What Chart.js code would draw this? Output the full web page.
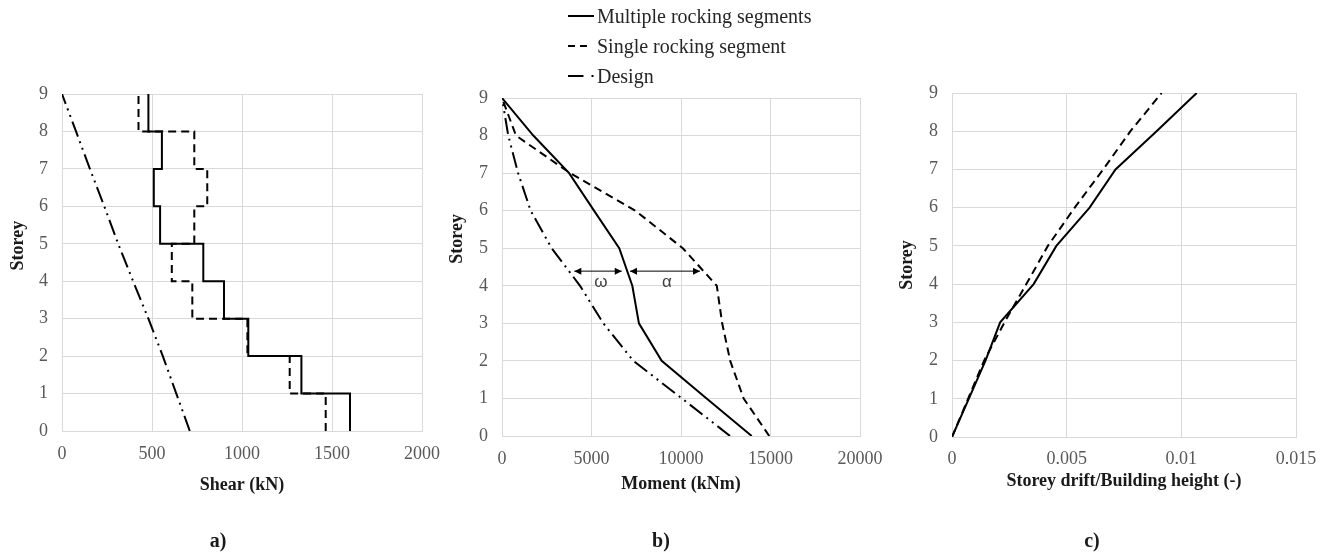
<!DOCTYPE html>
<html>
<head>
<meta charset="utf-8">
<script src="https://cdn.jsdelivr.net/npm/chart.js@4.4.0/dist/chart.umd.min.js"></script>
<style>
  body { margin: 0; width: 1328px; height: 554px; background: #fff; position: relative; overflow: hidden; font-family: "Liberation Serif", serif; }
  canvas { position: absolute; top: 0; }
  .tag { position: absolute; top: 540px; transform: translate(-50%, -50%); font-size: 20px; font-weight: bold; color: #1a1a1a; }
  #legend { position: absolute; left: 568px; top: 1px; font-size: 20px; color: #262626; }
  #legend div { height: 30px; display: flex; align-items: center; }
  #legend svg { margin-right: 3px; }
</style>
</head>
<body>
<canvas id="shearChart" width="450" height="554" style="left:0px"></canvas>
<canvas id="momentChart" width="460" height="554" style="left:440px"></canvas>
<canvas id="driftChart" width="438" height="554" style="left:890px"></canvas>

<div id="legend">
  <div><svg width="26" height="4"><line x1="0" y1="2" x2="26" y2="2" stroke="#000" stroke-width="2"/></svg>Multiple rocking segments</div>
  <div><svg width="26" height="4"><line x1="0" y1="2" x2="19" y2="2" stroke="#000" stroke-width="2" stroke-dasharray="7 5"/></svg>Single rocking segment</div>
  <div><svg width="26" height="4"><line x1="0" y1="2" x2="27" y2="2" stroke="#000" stroke-width="2" stroke-dasharray="15.5 8 2 8"/></svg>Design</div>
</div>

<div class="tag" style="left:218px">a)</div>
<div class="tag" style="left:661px">b)</div>
<div class="tag" style="left:1092px">c)</div>

<script>
// ------------------ Data ------------------
const storeys = [0, 1, 2, 3, 4, 5, 6, 7, 8, 9];

// a) shear (kN), value of the step starting at each storey
const shearMultiple = [1600, 1330, 1035, 900, 785, 545, 510, 555, 480, 480];
const shearSingle   = [1465, 1265, 1030, 724, 610, 735, 807, 735, 425, 425];
const shearDesign   = [710, 635, 560, 480, 395, 312, 235, 155, 78, 0];

// b) moment (kNm)
const momentMultiple = [13950, 11430, 8920, 7650, 7280, 6550, 5140, 3750, 1750, 0];
const momentSingle   = [14930, 13500, 12750, 12300, 12000, 10100, 7450, 3800, 780, 0];
const momentDesign   = [12740, 10050, 7340, 5660, 4360, 2775, 1600, 900, 350, 0];

// c) storey drift / building height
const driftMultiple = [0, 0.00073, 0.00146, 0.0021, 0.00356, 0.00455, 0.006, 0.00713, 0.00892, 0.01067];
const driftSingle   = [0, 0.0007, 0.0014, 0.00229, 0.00324, 0.00418, 0.00535, 0.00659, 0.00778, 0.00914];

// tick values
const storeyTicks = [0, 1, 2, 3, 4, 5, 6, 7, 8, 9];
const shearTicks  = [0, 500, 1000, 1500, 2000];
const momentTicks = [0, 5000, 10000, 15000, 20000];
const driftTicks  = [0, 0.005, 0.01, 0.015];

// omega / alpha arrows in b)
const arrowStorey = 4.39;
const arrowRanges = [[4040, 6690], [7150, 11060]];
const arrowLabels = ["ω", "α"];
const arrowLabelX = [5530, 9220];
const arrowLabelStorey = 4.1;

// ------------------ Helpers ------------------
const pts = vals => vals.map((v, i) => ({ x: v, y: storeys[i] }));

const solid  = { borderColor: "#000", borderWidth: 2, pointRadius: 0, showLine: true };
const dashed = { borderColor: "#000", borderWidth: 2, pointRadius: 0, showLine: true, borderDash: [8, 5] };
const dashDot = { borderColor: "#000", borderWidth: 2, pointRadius: 0, showLine: true, borderDash: [16, 5, 2, 5, 2, 5] };

const tickFont = { family: "Liberation Serif", size: 18 };
const titleFont = { family: "Liberation Serif", size: 18, weight: "bold" };
const gridColor = "#d9d9d9";

function makeOptions(xTicks, xTitle, box, fmt) {
  return {
    responsive: false,
    animation: false,
    layout: { padding: { left: 0, top: box.top, right: box.right, bottom: box.bottom } },
    plugins: {
      legend: { display: false },
      tooltip: { enabled: false },
      yTitle: { text: "Storey", x: box.yTitleX, storey: box.yTitleStorey }
    },
    scales: {
      x: {
        type: "linear",
        min: xTicks[0],
        max: xTicks[xTicks.length - 1],
        ticks: { stepSize: xTicks[1] - xTicks[0], font: tickFont, color: "#595959", padding: box.xTickPad, maxRotation: 0, callback: fmt },
        grid: { color: gridColor, drawTicks: false },
        border: { color: gridColor },
        title: { display: true, text: xTitle, font: titleFont, color: "#1a1a1a", padding: 0 },
        afterFit: s => { s.height = box.xHeight; s.paddingLeft = 0; s.paddingRight = 0; }
      },
      y: {
        type: "linear",
        min: storeyTicks[0],
        max: storeyTicks[storeyTicks.length - 1],
        ticks: { stepSize: 1, font: tickFont, color: "#595959", padding: 14 },
        grid: { color: gridColor, drawTicks: false },
        border: { color: gridColor },
        afterFit: s => { s.width = box.yWidth; s.paddingTop = 0; s.paddingBottom = 0; }
      }
    }
  };
}

// rotated y title, placed at a storey value like the original
const yTitlePlugin = {
  id: "yTitle",
  afterDraw(chart, args, opts) {
    const ctx = chart.ctx;
    ctx.save();
    ctx.translate(opts.x, chart.scales.y.getPixelForValue(opts.storey));
    ctx.rotate(-Math.PI / 2);
    ctx.font = "bold 18px 'Liberation Serif', serif";
    ctx.fillStyle = "#1a1a1a";
    ctx.textAlign = "center";
    ctx.textBaseline = "middle";
    ctx.fillText(opts.text, 0, 0);
    ctx.restore();
  }
};

// ------------------ Arrow plugin for b) ------------------
const arrowPlugin = {
  id: "arrows",
  afterDatasetsDraw(chart) {
    const { ctx, scales: { x, y } } = chart;
    const yy = y.getPixelForValue(arrowStorey);
    ctx.save();
    ctx.strokeStyle = "#000";
    ctx.lineWidth = 1;
    arrowRanges.forEach((r, i) => {
      const x1 = x.getPixelForValue(r[0]);
      const x2 = x.getPixelForValue(r[1]);
      ctx.fillStyle = "#000";
      ctx.beginPath();
      ctx.moveTo(x1, yy);
      ctx.lineTo(x2, yy);
      ctx.stroke();
      [[x1, 1], [x2, -1]].forEach(([px, dir]) => {
        ctx.beginPath();
        ctx.moveTo(px, yy);
        ctx.lineTo(px + dir * 7, yy - 3.5);
        ctx.lineTo(px + dir * 7, yy + 3.5);
        ctx.closePath();
        ctx.fill();
      });
      ctx.fillStyle = "#404040";
      ctx.font = "17px 'Liberation Sans', sans-serif";
      ctx.textAlign = "center";
      ctx.textBaseline = "middle";
      ctx.fillText(arrowLabels[i], x.getPixelForValue(arrowLabelX[i]), y.getPixelForValue(arrowLabelStorey));
    });
    ctx.restore();
  }
};

const plainNum = v => String(v);

// ------------------ a) Shear ------------------
new Chart(document.getElementById("shearChart"), {
  type: "scatter",
  data: {
    datasets: [
      { label: "Multiple rocking segments", data: pts(shearMultiple), stepped: "after", ...solid },
      { label: "Single rocking segment", data: pts(shearSingle), stepped: "after", ...dashed },
      { label: "Design", data: pts(shearDesign), ...dashDot }
    ]
  },
  options: makeOptions(shearTicks, "Shear (kN)",
    { top: 94, right: 28, bottom: 58, yWidth: 62, xHeight: 65, yTitleX: 18, yTitleStorey: 4.95, xTickPad: 12 }, plainNum),
  plugins: [yTitlePlugin]
});

// ------------------ b) Moment ------------------
new Chart(document.getElementById("momentChart"), {
  type: "scatter",
  data: {
    datasets: [
      { label: "Multiple rocking segments", data: pts(momentMultiple), ...solid },
      { label: "Single rocking segment", data: pts(momentSingle), ...dashed },
      { label: "Design", data: pts(momentDesign), ...dashDot }
    ]
  },
  options: makeOptions(momentTicks, "Moment (kNm)",
    { top: 98, right: 40, bottom: 59, yWidth: 62, xHeight: 59, yTitleX: 17, yTitleStorey: 5.25, xTickPad: 12 }, plainNum),
  plugins: [arrowPlugin, yTitlePlugin]
});

// ------------------ c) Drift ------------------
new Chart(document.getElementById("driftChart"), {
  type: "scatter",
  data: {
    datasets: [
      { label: "Multiple rocking segments", data: pts(driftMultiple), ...solid },
      { label: "Single rocking segment", data: pts(driftSingle), ...dashed }
    ]
  },
  options: makeOptions(driftTicks, "Storey drift/Building height (-)",
    { top: 93, right: 32, bottom: 62, yWidth: 62, xHeight: 55, yTitleX: 17, yTitleStorey: 4.5, xTickPad: 11 }, v => String(+v.toFixed(3))),
  plugins: [yTitlePlugin]
});
</script>
</body>
</html>
